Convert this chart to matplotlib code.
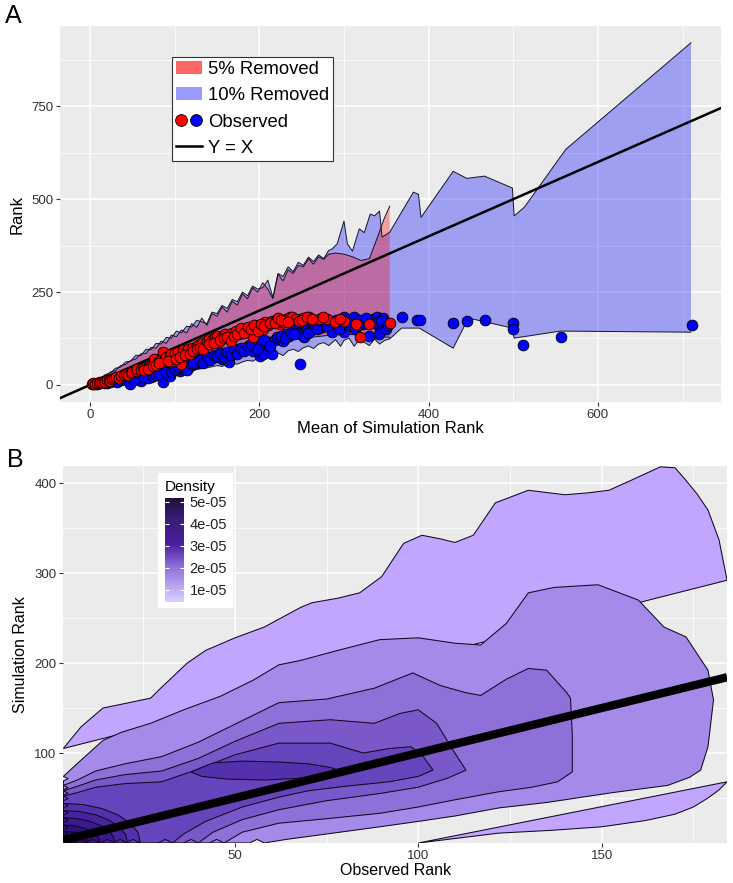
import matplotlib
matplotlib.use('Agg')
import numpy as np
import matplotlib.pyplot as plt
from matplotlib.patches import Patch, Polygon, Rectangle
from matplotlib.lines import Line2D
from matplotlib.legend_handler import HandlerTuple
from matplotlib.colors import LinearSegmentedColormap

plt.rcParams['font.family'] = ['Liberation Sans', 'DejaVu Sans']

# ---------------- panel A data ----------------
# observed points (mean of simulation rank, observed rank)
red_x = [2, 4, 6, 8, 10, 12, 14, 16, 18, 20, 22, 24, 26, 28, 31, 34, 36, 40, 42, 45, 48, 50, 54, 56, 60,
         62, 66, 70, 72, 76, 76, 80, 84, 86, 88, 90, 94, 96, 98, 100, 104, 108, 110, 113, 116, 120, 125,
         128, 132, 136, 138, 141, 144, 148, 150, 152, 156, 160, 164, 168, 172, 176, 180, 184, 188, 192,
         196, 200, 204, 207, 210, 215, 220, 224, 228, 231, 236, 239, 243, 247, 252, 259, 265, 271, 280,
         289, 300, 314, 319, 330, 354,
         64, 68, 74, 78, 82, 92, 102, 106, 112, 118, 122, 126, 130, 134, 140, 146, 154, 158, 162, 166,
         170, 174, 178, 182, 186, 190, 194, 198, 202, 206, 212, 218, 222, 226, 234, 250, 256, 262, 275, 295]
red_y = [2, 4, 3, 6, 5, 8, 7, 10, 9, 12, 14, 11, 16, 18, 21, 20, 24, 27, 30, 28, 33, 36, 38, 42, 40,
         46, 48, 51, 55, 58, 70, 62, 66, 89, 72, 75, 78, 82, 65, 86, 90, 56, 94, 89, 97, 100, 102,
         108, 112, 105, 118, 124, 120, 129, 132, 115, 129, 136, 124, 140, 145, 138, 145, 150, 142, 129,
         155, 160, 150, 169, 162, 172, 176, 164, 170, 177, 182, 183, 178, 172, 180, 183, 175, 177, 178,
         169, 172, 163, 130, 165, 167,
         40, 44, 50, 54, 58, 64, 70, 76, 80, 84, 92, 96, 100, 98, 110, 112, 120, 126, 130, 118,
         132, 136, 152, 140, 156, 150, 160, 146, 164, 158, 166, 168, 180, 176, 170, 176, 183, 178, 182, 178]
blue_x = [4, 8, 12, 16, 20, 24, 28, 32, 36, 40, 44, 47, 50, 54, 58, 60, 63, 66, 70, 72, 76, 80, 84, 86,
          88, 92, 94, 98, 102, 106, 109, 112, 117, 120, 125, 128, 132, 136, 140, 144, 148, 152, 156, 160,
          164, 168, 172, 176, 180, 184, 188, 192, 195, 199, 201, 204, 208, 211, 215, 218, 221, 224, 228,
          232, 235, 239, 243, 246, 248, 250, 253, 256, 260, 263, 266, 270, 274, 278, 283, 286, 290, 296,
          300, 300, 306, 312, 313, 318, 322, 329, 329, 334, 339, 341, 341, 346, 350, 368, 386, 390, 429,
          445, 467, 500, 500, 512, 556, 711,
          52, 64, 68, 74, 78, 82, 90, 96, 100, 104, 110, 114, 118, 122, 130, 134, 138, 142, 146, 150,
          154, 158, 162, 166, 170, 174, 178, 182, 186, 190, 197, 206, 213, 226, 230, 237, 241, 258, 268,
          280, 294, 304, 316, 326, 336, 344, 352]
blue_y = [2, 3, 4, 6, 5, 8, 10, 9, 13, 15, 12, 3, 18, 20, 17, 11, 22, 25, 30, 21, 28, 33, 35, 8,
          30, 38, 24, 40, 45, 38, 43, 50, 48, 55, 65, 58, 62, 70, 66, 72, 75, 80, 70, 83,
          62, 86, 89, 93, 97, 97, 101, 92, 105, 110, 78, 84, 112, 116, 83, 120, 129, 124, 118,
          136, 132, 145, 150, 139, 56, 135, 129, 150, 145, 165, 159, 152, 156, 170, 163, 142, 176, 168,
          183, 142, 160, 183, 150, 175, 165, 172, 132, 178, 183, 159, 137, 180, 150, 183, 175, 175, 168,
          172, 176, 168, 151, 107, 129, 161,
          12, 18, 20, 24, 26, 30, 36, 34, 42, 48, 52, 40, 58, 60, 66, 60, 74, 68, 80, 78,
          86, 76, 90, 80, 96, 84, 100, 92, 104, 110, 96, 120, 106, 132, 126, 140, 136, 140, 150,
          158, 150, 170, 162, 180, 166, 172, 160]

# 5% removed envelope
r5_up_x = [0, 6, 12, 18, 24, 30, 36, 42, 48, 54, 60, 66, 72, 78, 84, 90, 96, 102, 108, 114, 120, 126,
           132, 138, 144, 150, 156, 162, 168, 174, 180, 186, 192, 198, 204, 210, 216, 222, 228, 234,
           240, 246, 252, 258, 264, 270, 276, 282, 290, 300, 310, 320, 330, 340, 347, 354]
r5_up_y = [0, 9, 19, 22, 35, 38, 52, 55, 66, 70, 84, 85, 101, 99, 118, 112, 134, 130, 148, 140, 165, 155,
           180, 160, 192, 185, 210, 196, 225, 215, 245, 232, 262, 250, 275, 258, 232, 298, 280, 310,
           300, 322, 318, 340, 325, 345, 338, 352, 355, 352, 345, 335, 340, 400, 445, 481]
r5_lo_x = [0, 20, 40, 60, 80, 100, 120, 140, 160, 180, 200, 220, 240, 260, 280, 300, 315, 330, 345, 354]
r5_lo_y = [0, 10, 20, 31, 42, 53, 64, 75, 86, 96, 106, 115, 122, 128, 133, 137, 135, 133, 130, 128]

# 10% removed envelope
b10_up_x = [0, 6, 12, 18, 24, 30, 36, 42, 48, 54, 60, 66, 72, 78, 84, 90, 96, 102, 108, 114, 120, 126,
            132, 138, 144, 150, 156, 162, 168, 174, 180, 186, 192, 198, 204, 210, 216, 222, 228, 234,
            240, 246, 252, 258, 264, 270, 276, 282, 286, 292, 300, 304, 310, 318, 324, 331, 336, 342,
            345, 354, 382, 388, 391, 429, 445, 466, 499, 501, 513, 562, 710]
b10_up_y = [0, 11, 17, 28, 32, 45, 48, 62, 64, 80, 79, 96, 95, 112, 110, 128, 126, 145, 140, 158, 156, 174,
            170, 165, 196, 192, 214, 206, 230, 224, 250, 240, 266, 258, 262, 282, 236, 300, 292, 318,
            305, 330, 322, 344, 332, 350, 340, 362, 366, 380, 441, 380, 360, 420, 410, 460, 455, 468,
            398, 411, 519, 513, 451, 575, 556, 562, 530, 455, 478, 634, 921]
b10_lo_x = [0, 6, 12, 18, 24, 30, 36, 42, 48, 54, 60, 66, 72, 78, 84, 90, 96, 102, 108, 114, 120, 126,
            132, 138, 144, 150, 156, 162, 168, 174, 180, 186, 192, 198, 204, 210, 216, 222, 228, 234,
            240, 246, 252, 258, 264, 270, 276, 282, 290, 296, 300, 306, 312, 318, 324, 330, 336, 342,
            348, 354, 368, 389, 429, 447, 499, 501, 556, 710]
b10_lo_y = [0, 1, 3, 5, 6, 8, 10, 12, 14, 16, 18, 20, 22, 24, 26, 28, 30, 32, 34, 37, 40, 42,
            44, 46, 49, 52, 50, 55, 58, 56, 62, 66, 64, 71, 76, 72, 81, 86, 79, 92,
            96, 90, 100, 105, 98, 110, 114, 106, 122, 104, 120, 126, 104, 122, 115, 106, 124, 110,
            120, 124, 153, 153, 99, 180, 153, 126, 145, 142]

# ---------------- panel B data (density contour paths, edge to edge) ----------------
lvl1_top = [(3.2, 105), (8, 129), (14, 150), (20, 155), (27, 161), (30, 173), (37, 200), (42, 214),
            (50, 228), (58, 240), (68, 262), (71, 267), (78, 272), (84, 278), (90, 296), (96, 333),
            (101, 342), (106, 338), (110, 334), (115, 342), (121, 378), (130, 392), (140, 387),
            (146, 389), (152, 392), (158, 403), (166, 418), (170, 417), (173, 403), (176, 388),
            (179, 370), (182, 337), (184.2, 292)]
lvl1_low = [(100, 0), (112, 6), (122, 11), (136, 14), (150, 18), (162, 25), (170, 32), (175, 40),
            (179, 50), (182, 59), (184.2, 68)]
lvl2 = [(3.2, 74), (8, 92), (14, 114), (19, 123), (27, 133), (36, 148), (46, 163), (55, 181), (62, 198),
        (68, 203), (78, 214), (89.5, 226), (100, 228), (110, 222), (117, 220), (124, 244), (130, 278),
        (137, 284), (149, 287), (160, 270), (167, 240), (173, 229), (179, 192), (180.5, 159),
        (179, 107), (177, 81), (174, 73), (168, 64), (153, 56), (135, 45), (122, 39), (110, 30),
        (100, 24), (89.5, 18), (75, 10), (64, 4), (58, 0)]
lvl3 = [(3.2, 64), (7, 70), (12, 80), (20, 88), (30, 96), (40, 112), (50, 132), (62, 156), (75, 160),
        (88, 172), (98.5, 189), (106, 175), (113, 167), (117, 164), (124, 182), (130, 194), (135, 192),
        (140.5, 167), (141.5, 161), (142, 120), (142, 79), (138, 68), (131, 62), (122, 57), (110, 48),
        (100, 40), (89.5, 33), (75, 27), (62, 22), (52, 12), (47, 0)]
lvl4 = [(3.2, 58), (7, 63), (12, 70), (20, 76), (30, 80), (40, 94), (50, 113), (62, 133), (76, 137),
        (88, 133), (95, 144), (100, 148), (105, 133), (109.5, 103), (113, 81), (108, 72), (100, 62),
        (89.5, 55), (75, 47), (62, 37), (52, 26), (44, 12), (40, 0)]
lvl5 = [(3.2, 52), (7, 56), (12, 62), (20, 66), (30, 68), (40, 82), (50, 98), (62, 111), (76, 111),
        (85, 100), (92, 105), (98, 107), (101, 98), (104, 81), (100, 74), (92, 68), (80, 63), (70, 58),
        (62, 51), (52, 40), (42, 24), (36, 10), (33, 0)]
lvl6_loop = [(38, 79), (44, 89), (52, 91), (62, 90), (70, 88), (76, 84), (79, 80), (76, 76), (68, 72),
             (58, 70), (48, 71), (41, 74)]
lvl6_arc = [(3.2, 44), (8.7, 42.7), (13.7, 38.3), (18.1, 31.2), (21.5, 22), (23.6, 11.4), (24.2, 0)]
lvl7_arc = [(3.2, 36), (7.7, 34.9), (12, 31.3), (15.6, 25.6), (18.4, 18), (20.2, 9.4), (20.7, 0)]
lvl8_arc = [(3.2, 28), (6.8, 27.2), (10.2, 24.4), (13.1, 19.9), (15.4, 14), (16.8, 7.3), (17.2, 0)]
lvl9_arc = [(3.2, 20), (5.8, 19.4), (8.2, 17.4), (10.3, 14.2), (11.9, 10), (12.9, 5.2), (13.2, 0)]
lvl10_arc = [(3.2, 13), (4.9, 12.6), (6.5, 11.3), (7.8, 9.2), (8.9, 6.5), (9.5, 3.4), (9.7, 0)]
lvl11_arc = [(3.2, 7), (4.1, 6.8), (5, 6.1), (5.7, 5), (6.2, 3.5), (6.6, 1.8), (6.7, 0)]

# (path, fill colour, closed through the lower-left corner?)
density_layers = [(lvl1_top, '#C1A5FE', False), (lvl1_low, '#C1A5FE', False),
                  (lvl2, '#A68AE9', True), (lvl3, '#8F70D8', True), (lvl4, '#7A58C9', True),
                  (lvl5, '#6644BB', True), (lvl6_loop, '#5530AC', False), (lvl6_arc, '#5530AC', True),
                  (lvl7_arc, '#47239E', True), (lvl8_arc, '#3B198E', True), (lvl9_arc, '#30117C', True),
                  (lvl10_arc, '#260B6A', True), (lvl11_arc, '#1E0858', True)]
density_ticks = [1e-05, 2e-05, 3e-05, 4e-05, 5e-05]
density_range = (0.45e-05, 5.18e-05)

XMIN_B = 3.2


def corner_closed(path):
    # close the contour through the lower-left corner, leaving the small
    # notches that ggplot's clipped polygons show on the edges
    xa, ya = path[0]
    xb, yb = path[-1]
    t = min(5.0, ya * 0.35)
    verts = list(path)
    verts += [(xb - 2.0, 4.0), (xb - 4.0, 0)]
    verts += [(XMIN_B, 0), (XMIN_B, ya - t), (XMIN_B + 1.3, ya - t / 2)]
    return verts


def gg_axes(ax, xmaj, xmin, ymaj, ymin):
    ax.set_facecolor('#EBEBEB')
    for s in ax.spines.values():
        s.set_visible(False)
    ax.set_xticks(xmaj)
    ax.set_xticks(xmin, minor=True)
    ax.set_yticks(ymaj)
    ax.set_yticks(ymin, minor=True)
    ax.grid(which='major', color='white', lw=1.1)
    ax.grid(which='minor', color='white', lw=0.55)
    ax.set_axisbelow(True)
    ax.tick_params(which='major', length=3, width=0.8, color='#333333',
                   labelcolor='#333333', labelsize=9.5, pad=2)
    ax.tick_params(which='minor', length=0)


fig = plt.figure(figsize=(7.33, 8.83), dpi=100)
axA = fig.add_axes([0.0819, 0.5447, 0.9018, 0.4258])
axB = fig.add_axes([0.0864, 0.0453, 0.9055, 0.4270])

# ---------------- panel A ----------------
gg_axes(axA, [0, 200, 400, 600], [100, 300, 500, 700], [0, 250, 500, 750], [125, 375, 625, 875])
axA.set_xlim(-35.5, 745.5)
axA.set_ylim(-46, 966)

axA.fill(b10_up_x + b10_lo_x[::-1], b10_up_y + b10_lo_y[::-1], color='blue', alpha=0.32, lw=0, zorder=2)
axA.fill(r5_up_x + r5_lo_x[::-1], r5_up_y + r5_lo_y[::-1], color='red', alpha=0.32, lw=0, zorder=2)
for xs, ys in [(b10_up_x, b10_up_y), (b10_lo_x, b10_lo_y), (r5_up_x, r5_up_y), (r5_lo_x, r5_lo_y)]:
    axA.plot(xs, ys, color='#141428', lw=0.7, zorder=2.5)

axA.axline((0, 0), (1, 1), color='black', lw=1.8, zorder=3)
axA.scatter(blue_x, blue_y, s=60, c='blue', edgecolors='black', linewidths=0.6, zorder=4)
axA.scatter(red_x, red_y, s=60, c='red', edgecolors='black', linewidths=0.6, zorder=4)

handles = [Patch(facecolor='red', alpha=0.6, edgecolor='none'),
           Patch(facecolor='blue', alpha=0.4, edgecolor='none'),
           (Line2D([], [], marker='o', ls='', mfc='red', mec='black', ms=8.5, mew=0.6),
            Line2D([], [], marker='o', ls='', mfc='blue', mec='black', ms=8.5, mew=0.6)),
           Line2D([], [], color='black', lw=1.8)]
labels = ['5% Removed', '10% Removed', 'Observed', 'Y = X']
leg = axA.legend(handles, labels, handler_map={tuple: HandlerTuple(ndivide=None, pad=0.25)},
                 loc='upper left', bbox_to_anchor=(0.169, 0.9176), fontsize=13.3,
                 frameon=True, fancybox=False, edgecolor='#333333', framealpha=1,
                 handlelength=1.4, handleheight=0.7, handletextpad=0.35, labelspacing=0.5,
                 borderpad=0.22, borderaxespad=0)
leg.get_frame().set_linewidth(0.8)

axA.set_xlabel('Mean of Simulation Rank', fontsize=12)
axA.set_ylabel('Rank', fontsize=12)
axA.xaxis.set_label_coords(0.5, -0.0505)
axA.yaxis.set_label_coords(-0.053, 0.5)

# ---------------- panel B ----------------
gg_axes(axB, [50, 100, 150], [25, 75, 125, 175], [100, 200, 300, 400], [50, 150, 250, 350])
axB.set_xlim(XMIN_B, 184.2)
axB.set_ylim(0, 419)

for path, col, corner in density_layers:
    verts = corner_closed(path) if corner else path
    axB.add_patch(Polygon(verts, closed=True, facecolor=col, edgecolor='#110820', lw=0.75, zorder=2))

axB.axline((0, 0), (1, 1), color='black', lw=6, zorder=3, solid_capstyle='butt')

axB.add_patch(Rectangle((0.1427, 0.6233), 0.113, 0.358, transform=axB.transAxes,
                        facecolor='white', edgecolor='none', zorder=10))
axB.text(0.1532, 0.944, 'Density', transform=axB.transAxes, fontsize=11,
         ha='left', va='center', zorder=12)
cmap = LinearSegmentedColormap.from_list('dens', [(0, '#DCD0FF'), (0.35, '#8C6CD8'),
                                                  (0.55, '#4A1E9E'), (0.8, '#3A1C78'),
                                                  (1, '#1C1238')])
cax = axB.inset_axes([0.1532, 0.6393, 0.0286, 0.2759])
cax.set_zorder(11)
grad = np.linspace(density_range[0], density_range[1], 256).reshape(-1, 1)
cax.imshow(grad, cmap=cmap, aspect='auto', origin='lower',
           extent=[0, 1, density_range[0], density_range[1]])
cax.set_xlim(0, 1)
cax.set_ylim(*density_range)
cax.set_xticks([])
cax.yaxis.tick_right()
cax.set_yticks(density_ticks)
cax.set_yticklabels(['1e-05', '2e-05', '3e-05', '4e-05', '5e-05'])
cax.tick_params(axis='y', length=0, pad=4, labelsize=10.5, labelcolor='#222222')
cax.hlines(density_ticks, 0, 0.2, colors='white', lw=0.8)
cax.hlines(density_ticks, 0.8, 1, colors='white', lw=0.8)
for s in cax.spines.values():
    s.set_visible(False)

axB.set_xlabel('Observed Rank', fontsize=11.5)
axB.set_ylabel('Simulation Rank', fontsize=11.5)
axB.xaxis.set_label_coords(0.5, -0.053)
axB.yaxis.set_label_coords(-0.053, 0.5)

fig.text(0.007, 0.982, 'A', fontsize=18, ha='left', va='center')
fig.text(0.009, 0.479, 'B', fontsize=18, ha='left', va='center')

fig.savefig('out.png', dpi=100)
